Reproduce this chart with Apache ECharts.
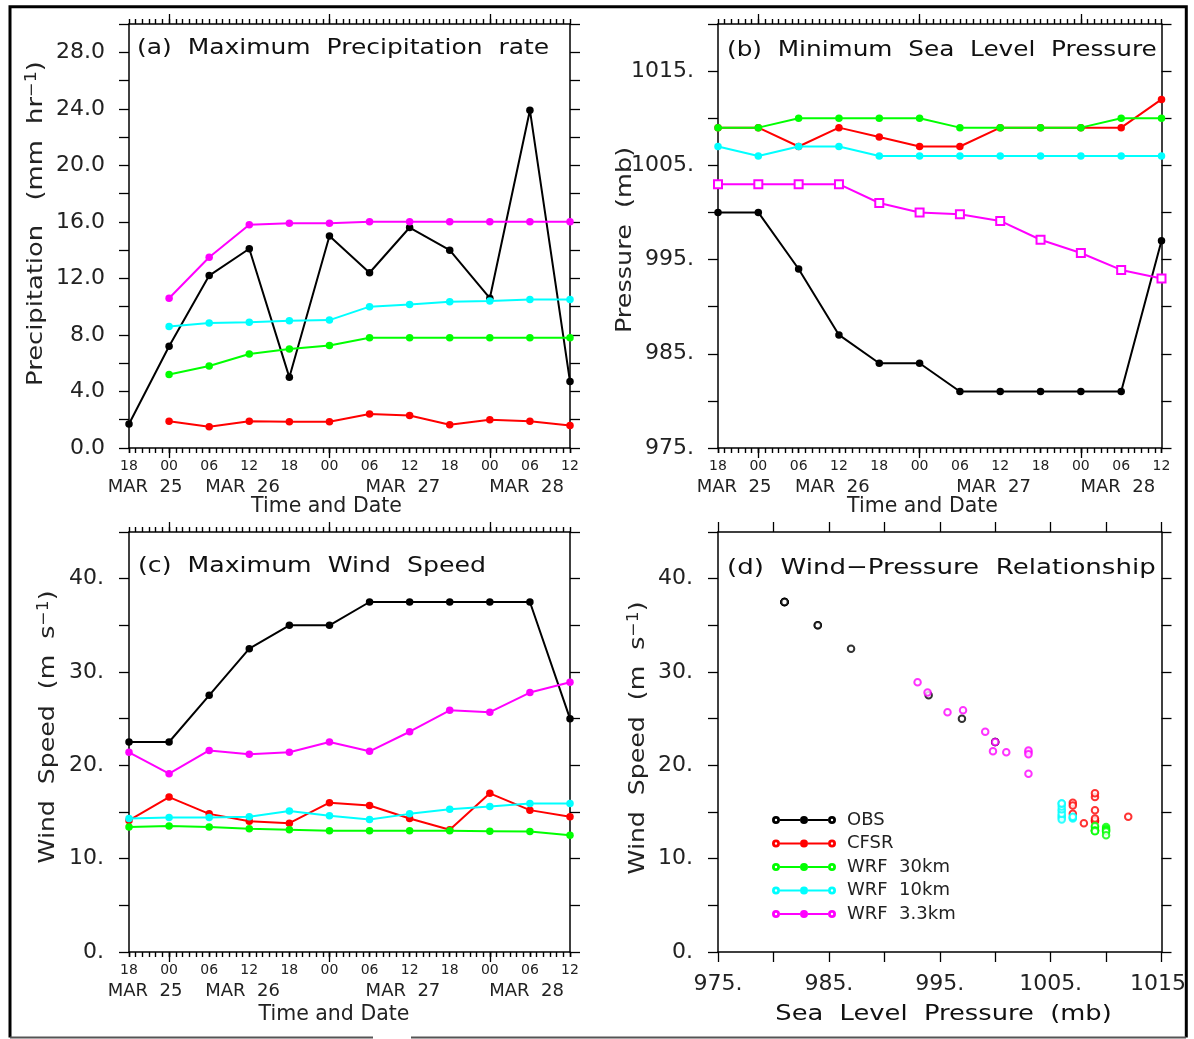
<!DOCTYPE html>
<html><head><meta charset="utf-8">
<script src="https://cdn.jsdelivr.net/npm/echarts@6/dist/echarts.min.js"></script>
<style>html,body{margin:0;padding:0;background:#fff}#c{width:1194px;height:1039px}</style>
</head><body><div id="c"></div>
<script>
// ---------- data ----------
const seriesNames = ['OBS', 'CFSR', 'WRF 30km', 'WRF 10km', 'WRF 3.3km'];
const legendLabels = ['OBS', 'CFSR', 'WRF  30km', 'WRF  10km', 'WRF  3.3km'];
const seriesColors = ['#000000', '#ff0000', '#00ff00', '#00ffff', '#ff00ff'];

// hours after 18 UTC 24 March
const timeHours = [0, 6, 12, 18, 24, 30, 36, 42, 48, 54, 60, 66];
const hourTickPos = [0, 6, 12, 18, 24, 30, 36, 42, 48, 54, 60, 66];
const hourTickLabels = ['18', '00', '06', '12', '18', '00', '06', '12', '18', '00', '06', '12'];
const dayStartPos = [6, 30, 54];
const dateTickPos = [2.4, 17, 41, 59.5];
const dateTickLabels = ['MAR  25', 'MAR  26', 'MAR  27', 'MAR  28'];

const precipTickPos = [0, 4, 8, 12, 16, 20, 24, 28];
const precipTickLabels = ['0.0', '4.0', '8.0', '12.0', '16.0', '20.0', '24.0', '28.0'];
const slpTickPos = [975, 985, 995, 1005, 1015];
const slpTickLabels = ['975.', '985.', '995.', '1005.', '1015.'];
const windTickPos = [0, 10, 20, 30, 40];
const windTickLabels = ['0.', '10.', '20.', '30.', '40.'];

// (a) maximum precipitation rate (mm/hr)
const precipOBS   = [1.7, 7.2, 12.2, 14.1, 5.0, 15.0, 12.4, 15.6, 14.0, 10.6, 23.9, 4.7];
const precipCFSR  = [null, 1.9, 1.5, 1.9, 1.85, 1.85, 2.4, 2.3, 1.65, 2.0, 1.9, 1.6];
const precipWRF30 = [null, 5.2, 5.8, 6.65, 7.0, 7.25, 7.8, 7.8, 7.8, 7.8, 7.8, 7.8];
const precipWRF10 = [null, 8.6, 8.85, 8.9, 9.0, 9.05, 10.0, 10.15, 10.35, 10.4, 10.5, 10.5];
const precipWRF33 = [null, 10.6, 13.5, 15.8, 15.9, 15.9, 16.0, 16.0, 16.0, 16.0, 16.0, 16.0];

// (b) minimum sea level pressure (mb)
const slpOBS   = [1000, 1000, 994, 987, 984, 984, 981, 981, 981, 981, 981, 997];
const slpCFSR  = [1009, 1009, 1007, 1009, 1008, 1007, 1007, 1009, 1009, 1009, 1009, 1012];
const slpWRF30 = [1009, 1009, 1010, 1010, 1010, 1010, 1009, 1009, 1009, 1009, 1010, 1010];
const slpWRF10 = [1007, 1006, 1007, 1007, 1006, 1006, 1006, 1006, 1006, 1006, 1006, 1006];
const slpWRF33 = [1003, 1003, 1003, 1003, 1001, 1000, 999.8, 999.1, 997.1, 995.7, 993.9, 993.0];

// (c) maximum wind speed (m/s)
const windOBS   = [22.5, 22.5, 27.5, 32.5, 35.0, 35.0, 37.5, 37.5, 37.5, 37.5, 37.5, 25.0];
const windCFSR  = [14.1, 16.6, 14.8, 14.0, 13.8, 16.0, 15.7, 14.3, 13.1, 17.0, 15.2, 14.5];
const windWRF30 = [13.4, 13.5, 13.4, 13.2, 13.1, 13.0, 13.0, 13.0, 13.0, 12.95, 12.9, 12.5];
const windWRF10 = [14.3, 14.4, 14.4, 14.5, 15.1, 14.6, 14.2, 14.8, 15.3, 15.6, 15.9, 15.9];
const windWRF33 = [21.4, 19.1, 21.6, 21.2, 21.4, 22.5, 21.5, 23.6, 25.9, 25.7, 27.8, 28.9];

const precipSets = [precipOBS, precipCFSR, precipWRF30, precipWRF10, precipWRF33];
const slpSets = [slpOBS, slpCFSR, slpWRF30, slpWRF10, slpWRF33];
const windSets = [windOBS, windCFSR, windWRF30, windWRF10, windWRF33];

// ---------- styling / layout ----------
const F = 'DejaVu Sans';
const LBL = '#222';
const axisLineStyle = { show: true, onZero: false, lineStyle: { color: '#000', width: 1.5 } };
const hiddenLine = { show: false, onZero: false };
const noSplit = { show: false };
const hourlySlots = Array.from({ length: 67 }, (_, i) => String(i)); // one tick per hour (category slots)

const panelRects = [
  { left: 129, top: 24, width: 441, height: 424 },
  { left: 718, top: 24, width: 443.5, height: 424 },
  { left: 129, top: 532, width: 441, height: 420 },
  { left: 718, top: 532, width: 443.5, height: 420 }
];

const grids = [], xAxes = [], yAxes = [];
const addGrid = r => { grids.push(Object.assign({ containLabel: false, outerBoundsMode: 'none' }, r)); return grids.length - 1; };
const addX = a => xAxes.push(a) - 1;
const addY = a => yAxes.push(a) - 1;
const hiddenY = gi => ({ gridIndex: gi, type: 'value', show: false, min: 0, max: 1 });

function yPair(gi, min, max, interval, pos, labels, margin) {
  const base = { gridIndex: gi, type: 'value', min: min, max: max, interval: interval, splitLine: noSplit,
    axisLine: axisLineStyle, axisTick: { show: true, length: 10, lineStyle: { color: '#000', width: 1.3 } } };
  const left = addY(Object.assign({}, base, { position: 'left',
    axisLabel: { show: true, customValues: pos, margin: margin, fontSize: 22, fontFamily: F, color: LBL,
      formatter: v => labels[pos.indexOf(v)] } }));
  addY(Object.assign({}, base, { position: 'right', axisLabel: { show: false } }));
  return left;
}

function timePanel(r, yMin, yMax, yInt, yPos, yLabels, yMargin) {
  const base = { type: 'value', min: 0, max: 66, interval: 6, splitLine: noSplit };
  // main grid: axis lines, hour labels
  const gi = addGrid(r);
  const xMain = addX(Object.assign({ gridIndex: gi }, base, { position: 'bottom', axisLine: axisLineStyle,
    axisTick: { show: true, length: 5, lineStyle: { color: '#000', width: 1.4 } },
    axisLabel: { show: true, customValues: hourTickPos, margin: 11, fontSize: 14, fontFamily: F, color: LBL,
      formatter: v => hourTickLabels[hourTickPos.indexOf(v)] } }));
  addX(Object.assign({ gridIndex: gi }, base, { position: 'top', axisLine: axisLineStyle,
    axisTick: { show: false }, axisLabel: { show: false } }));
  const yMain = yPair(gi, yMin, yMax, yInt, yPos, yLabels, yMargin);
  // overlay grid: hourly minor ticks
  const g1 = addGrid(r);
  ['bottom', 'top'].forEach(p => addX({ gridIndex: g1, type: 'category', position: p, data: hourlySlots, boundaryGap: false,
    axisLine: hiddenLine, axisLabel: { show: false }, splitLine: noSplit,
    axisTick: { show: true, interval: 0, length: 5, lineStyle: { color: '#000', width: 1.4 } } }));
  addY(hiddenY(g1));
  // overlay grid: day-start major ticks
  const g2 = addGrid(r);
  ['bottom', 'top'].forEach(p => addX(Object.assign({ gridIndex: g2 }, base, { position: p, axisLine: hiddenLine,
    axisTick: { show: true, customValues: dayStartPos, length: 10, lineStyle: { color: '#000', width: 1.3 } },
    axisLabel: { show: false } })));
  addY(hiddenY(g2));
  // overlay grid: date labels
  const g3 = addGrid(r);
  addX(Object.assign({ gridIndex: g3 }, base, { position: 'bottom', axisLine: hiddenLine, axisTick: { show: false },
    axisLabel: { show: true, customValues: dateTickPos, margin: 30, fontSize: 18, fontFamily: F, color: LBL,
      formatter: v => dateTickLabels[dateTickPos.indexOf(v)] } }));
  addY(hiddenY(g3));
  return { x: xMain, y: yMain };
}

const pA = timePanel(panelRects[0], 0, 30, 2, precipTickPos, precipTickLabels, 24);
const pB = timePanel(panelRects[1], 975, 1020, 5, slpTickPos, slpTickLabels, 24);
const pC = timePanel(panelRects[2], 0, 45, 5, windTickPos, windTickLabels, 25);

// panel (d)
const gD = addGrid(panelRects[3]);
const dBase = { gridIndex: gD, type: 'value', min: 975, max: 1015, interval: 5, splitLine: noSplit,
  axisLine: axisLineStyle, axisTick: { show: true, length: 10, lineStyle: { color: '#000', width: 1.3 } } };
const xD = addX(Object.assign({}, dBase, { position: 'bottom',
  axisLabel: { show: true, customValues: slpTickPos, margin: 21, fontSize: 22, fontFamily: F, color: LBL,
    formatter: v => {
      const s = slpTickLabels[slpTickPos.indexOf(v)];
      return v === 1015 ? '{v|' + s.slice(0, -1) + '}{h|.}' : s;
    },
    rich: { v: { fontSize: 22, fontFamily: F, color: LBL }, h: { fontSize: 22, fontFamily: F, color: 'rgba(0,0,0,0)' } } } }));
addX(Object.assign({}, dBase, { position: 'top', axisLabel: { show: false } }));
const yD = yPair(gD, 0, 45, 5, windTickPos, windTickLabels, 25);

const series = [];
function timeSeries(sets, p, squareFor) {
  sets.forEach((arr, k) => {
    const sq = squareFor === k;
    series.push({
      type: 'line', name: seriesNames[k], xAxisIndex: p.x, yAxisIndex: p.y,
      data: timeHours.map((h, i) => [h, arr[i] == null ? '-' : arr[i]]),
      symbol: sq ? 'emptyRect' : 'circle', symbolSize: sq ? 8 : 7.5, showSymbol: true,
      lineStyle: { color: seriesColors[k], width: 2 },
      itemStyle: sq ? { color: seriesColors[k], borderColor: seriesColors[k], borderWidth: 1.6 }
                    : { color: seriesColors[k], borderWidth: 0 },
      connectNulls: false, z: 2 + k, silent: true, animation: false
    });
  });
}
timeSeries(precipSets, pA, -1);
timeSeries(slpSets, pB, 4);
timeSeries(windSets, pC, -1);
slpSets.forEach((arr, k) => {
  series.push({
    type: 'scatter', name: seriesNames[k], xAxisIndex: xD, yAxisIndex: yD,
    data: arr.map((p, i) => [p, windSets[k][i]]),
    symbol: 'emptyCircle', symbolSize: 6.5,
    itemStyle: { color: seriesColors[k], borderColor: seriesColors[k], borderWidth: 2 },
    z: 2 + k, silent: true, animation: false
  });
});

const legendIcon = 'path://M0,4A4,4 0 1,1 8,4A4,4 0 1,1 0,4Z M2.8,4A1.2,1.2 0 1,0 5.2,4A1.2,1.2 0 1,0 2.8,4Z ' +
  'M28,4A4,4 0 1,1 36,4A4,4 0 1,1 28,4Z ' +
  'M56,4A4,4 0 1,1 64,4A4,4 0 1,1 56,4Z M58.8,4A1.2,1.2 0 1,0 61.2,4A1.2,1.2 0 1,0 58.8,4Z ' +
  'M8,3L28,3L28,5L8,5Z M36,3L56,3L56,5L36,5Z';

const ncl = (txt, x, y, sx, align) => ({
  type: 'text', x: x, y: y, scaleX: sx, z: 50, silent: true,
  style: { text: txt, fontSize: 22, fontFamily: F, fill: '#111', align: align || 'left', verticalAlign: 'middle' }
});
const vname = (parts, x, y, sx) => ({
  type: 'text', x: x, y: y, rotation: Math.PI / 2, scaleX: sx, z: 50, silent: true,
  style: {
    text: '{n|' + parts[0] + '}{s|' + parts[1] + '}{n|' + parts[2] + '}',
    align: 'center', verticalAlign: 'middle',
    rich: { n: { fontSize: 22, fontFamily: F, fill: '#222' }, s: { fontSize: 15, fontFamily: F, fill: '#222', verticalAlign: 'top' } }
  }
});
const plain = (txt, x, y, size) => ({
  type: 'text', x: x, y: y, z: 50, silent: true,
  style: { text: txt, fontSize: size, fontFamily: F, fill: '#222', align: 'center', verticalAlign: 'middle' }
});

const option = {
  animation: false,
  backgroundColor: '#fff',
  grid: grids,
  xAxis: xAxes,
  yAxis: yAxes,
  series: series,
  legend: {
    left: 767, top: 805, orient: 'vertical', selectedMode: false,
    itemWidth: 64, itemHeight: 8, itemGap: 3.5,
    itemStyle: { borderWidth: 0 }, lineStyle: { width: 0 },
    textStyle: { fontSize: 18, fontFamily: F, color: '#222', lineHeight: 20, padding: [0, 0, 0, 6] },
    formatter: n => legendLabels[seriesNames.indexOf(n)],
    data: seriesNames.map((n, k) => ({ name: n, icon: legendIcon, itemStyle: { color: seriesColors[k] } }))
  },
  graphic: [
    ncl('(a)  Maximum  Precipitation  rate', 137, 48, 1.135),
    ncl('(b)  Minimum  Sea  Level  Pressure', 727, 50, 1.125),
    ncl('(c)  Maximum  Wind  Speed', 138, 566.5, 1.145),
    ncl('(d)  Wind\u2212Pressure  Relationship', 727, 568, 1.185),
    vname(['Precipitation   (mm  hr', '\u22121', ')'], 36, 223.5, 1.17),
    vname(['Pressure  (mb)', '', ''], 625, 240, 1.16),
    vname(['Wind  Speed  (m  s', '\u22121', ')'], 48, 727, 1.145),
    vname(['Wind  Speed  (m  s', '\u22121', ')'], 638, 738, 1.145),
    plain('Time and Date', 326.5, 507, 20.5),
    plain('Time and Date', 922.5, 507, 20.5),
    plain('Time and Date', 334, 1015, 20.5),
    ncl('Sea  Level  Pressure  (mb)', 943.5, 1014, 1.17, 'center'),
    { type: 'polyline', z: 60, silent: true, shape: { points: [[10, 1037.5], [10, 6.7], [1186.3, 6.7], [1186.3, 1037.5]] },
      style: { stroke: '#000', lineWidth: 3, fill: null } },
    { type: 'line', z: 60, silent: true, shape: { x1: 10, y1: 1037.5, x2: 373, y2: 1037.5 }, style: { stroke: '#555', lineWidth: 2 } },
    { type: 'line', z: 60, silent: true, shape: { x1: 411, y1: 1037.5, x2: 1186, y2: 1037.5 }, style: { stroke: '#555', lineWidth: 2 } }
  ]
};

const chart = echarts.init(document.getElementById('c'), null, { renderer: 'canvas' });
chart.setOption(option);
</script></body></html>
